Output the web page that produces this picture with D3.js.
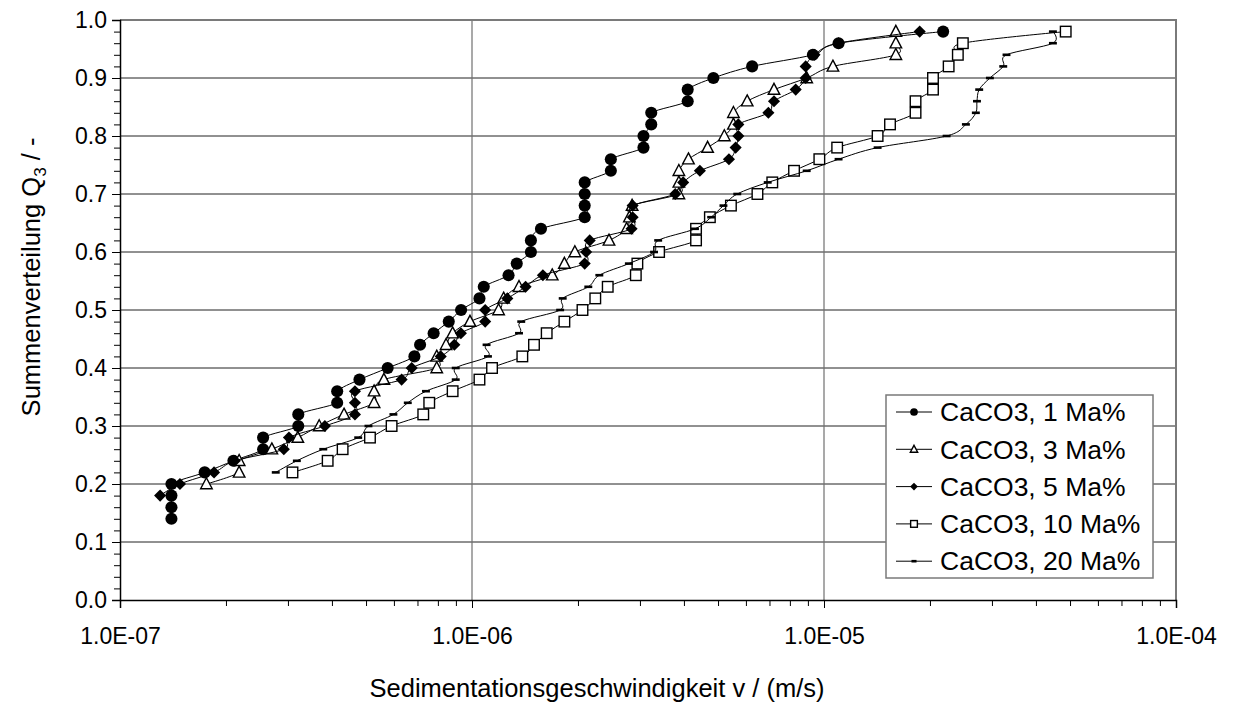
<!DOCTYPE html>
<html>
<head>
<meta charset="utf-8">
<script src="https://cdnjs.cloudflare.com/ajax/libs/d3/7.8.5/d3.min.js"></script>
<style>
  html, body { margin: 0; padding: 0; background: #fff; }
  svg { display: block; font-family: "Liberation Sans", Arial, sans-serif; }
</style>
</head>
<body>
<svg id="chart" width="1237" height="704"></svg>
<script>
// Cumulative distribution Q3 vs. settling velocity for CaCO3 suspensions
const seriesNames = ["CaCO3, 1 Ma%", "CaCO3, 3 Ma%", "CaCO3, 5 Ma%", "CaCO3, 10 Ma%", "CaCO3, 20 Ma%"];
const markerTypes = ["circle", "triangle", "diamond", "square", "dash"];

// velocity v (m/s) per series
const v1 = [1.40e-7, 1.40e-7, 1.40e-7, 1.40e-7, 1.74e-7, 2.10e-7, 2.55e-7, 2.55e-7, 3.21e-7, 3.21e-7,
            4.14e-7, 4.14e-7, 4.79e-7, 5.76e-7, 6.86e-7, 7.12e-7, 7.78e-7, 8.59e-7, 9.31e-7, 1.05e-6,
            1.08e-6, 1.27e-6, 1.34e-6, 1.47e-6, 1.47e-6, 1.57e-6, 2.09e-6, 2.09e-6, 2.09e-6, 2.09e-6,
            2.48e-6, 2.48e-6, 3.07e-6, 3.07e-6, 3.23e-6, 3.23e-6, 4.10e-6, 4.10e-6, 4.85e-6, 6.25e-6,
            9.30e-6, 1.10e-5, 2.18e-5];
const q1 = [0.14, 0.16, 0.18, 0.20, 0.22, 0.24, 0.26, 0.28, 0.30, 0.32,
            0.34, 0.36, 0.38, 0.40, 0.42, 0.44, 0.46, 0.48, 0.50, 0.52,
            0.54, 0.56, 0.58, 0.60, 0.62, 0.64, 0.66, 0.68, 0.70, 0.72,
            0.74, 0.76, 0.78, 0.80, 0.82, 0.84, 0.86, 0.88, 0.90, 0.92,
            0.94, 0.96, 0.98];

const v3 = [1.76e-7, 2.18e-7, 2.18e-7, 2.70e-7, 3.20e-7, 3.68e-7, 4.33e-7, 5.27e-7, 5.27e-7, 5.62e-7,
            7.94e-7, 7.94e-7, 8.44e-7, 8.81e-7, 9.87e-7, 1.19e-6, 1.23e-6, 1.36e-6, 1.69e-6, 1.83e-6,
            1.96e-6, 2.45e-6, 2.75e-6, 2.80e-6, 2.85e-6, 3.87e-6, 3.87e-6, 3.87e-6, 4.12e-6, 4.67e-6,
            5.21e-6, 5.53e-6, 5.53e-6, 6.05e-6, 7.21e-6, 8.93e-6, 1.06e-5, 1.60e-5, 1.60e-5, 1.60e-5];
const q3 = [0.20, 0.22, 0.24, 0.26, 0.28, 0.30, 0.32, 0.34, 0.36, 0.38,
            0.40, 0.42, 0.44, 0.46, 0.48, 0.50, 0.52, 0.54, 0.56, 0.58,
            0.60, 0.62, 0.64, 0.66, 0.68, 0.70, 0.72, 0.74, 0.76, 0.78,
            0.80, 0.82, 0.84, 0.86, 0.88, 0.90, 0.92, 0.94, 0.96, 0.98];

const v5 = [1.30e-7, 1.48e-7, 1.85e-7, 2.12e-7, 2.92e-7, 3.02e-7, 3.82e-7, 4.65e-7, 4.65e-7, 4.65e-7,
            6.31e-7, 6.74e-7, 8.15e-7, 8.91e-7, 9.30e-7, 1.09e-6, 1.09e-6, 1.26e-6, 1.42e-6, 1.59e-6,
            2.09e-6, 2.11e-6, 2.16e-6, 2.84e-6, 2.86e-6, 2.86e-6, 3.78e-6, 3.98e-6, 4.44e-6, 5.37e-6,
            5.61e-6, 5.71e-6, 5.71e-6, 6.95e-6, 7.21e-6, 8.31e-6, 8.87e-6, 8.87e-6, 9.40e-6, 1.10e-5,
            1.87e-5];
const q5 = [0.18, 0.20, 0.22, 0.24, 0.26, 0.28, 0.30, 0.32, 0.34, 0.36,
            0.38, 0.40, 0.42, 0.44, 0.46, 0.48, 0.50, 0.52, 0.54, 0.56,
            0.58, 0.60, 0.62, 0.64, 0.66, 0.68, 0.70, 0.72, 0.74, 0.76,
            0.78, 0.80, 0.82, 0.84, 0.86, 0.88, 0.90, 0.92, 0.94, 0.96,
            0.98];

const v10 = [3.09e-7, 3.89e-7, 4.29e-7, 5.13e-7, 5.91e-7, 7.27e-7, 7.56e-7, 8.81e-7, 1.05e-6, 1.14e-6,
             1.39e-6, 1.50e-6, 1.63e-6, 1.83e-6, 2.06e-6, 2.24e-6, 2.43e-6, 2.92e-6, 2.95e-6, 3.40e-6,
             4.33e-6, 4.33e-6, 4.74e-6, 5.44e-6, 6.47e-6, 7.13e-6, 8.22e-6, 9.70e-6, 1.09e-5, 1.42e-5,
             1.54e-5, 1.82e-5, 1.82e-5, 2.04e-5, 2.04e-5, 2.26e-5, 2.40e-5, 2.48e-5, 4.86e-5];
const q10 = [0.22, 0.24, 0.26, 0.28, 0.30, 0.32, 0.34, 0.36, 0.38, 0.40,
             0.42, 0.44, 0.46, 0.48, 0.50, 0.52, 0.54, 0.56, 0.58, 0.60,
             0.62, 0.64, 0.66, 0.68, 0.70, 0.72, 0.74, 0.76, 0.78, 0.80,
             0.82, 0.84, 0.86, 0.88, 0.90, 0.92, 0.94, 0.96, 0.98];

const v20 = [2.77e-7, 3.18e-7, 3.78e-7, 4.75e-7, 5.08e-7, 5.98e-7, 6.57e-7, 7.40e-7, 8.99e-7, 8.99e-7,
             1.11e-6, 1.10e-6, 1.36e-6, 1.38e-6, 1.78e-6, 1.81e-6, 2.14e-6, 2.30e-6, 2.79e-6, 3.29e-6,
             3.38e-6, 4.30e-6, 4.78e-6, 5.18e-6, 5.67e-6, 6.92e-6, 8.93e-6, 1.10e-5, 1.42e-5, 2.23e-5,
             2.53e-5, 2.70e-5, 2.72e-5, 2.76e-5, 2.96e-5, 3.23e-5, 3.30e-5, 4.47e-5, 4.47e-5];
const q20 = [0.22, 0.24, 0.26, 0.28, 0.30, 0.32, 0.34, 0.36, 0.38, 0.40,
             0.42, 0.44, 0.46, 0.48, 0.50, 0.52, 0.54, 0.56, 0.58, 0.60,
             0.62, 0.64, 0.66, 0.68, 0.70, 0.72, 0.74, 0.76, 0.78, 0.80,
             0.82, 0.84, 0.86, 0.88, 0.90, 0.92, 0.94, 0.96, 0.98];

const xTickValues = [1e-7, 1e-6, 1e-5, 1e-4];
const xTickLabels = ["1.0E-07", "1.0E-06", "1.0E-05", "1.0E-04"];
const yTickValues = [0.0, 0.1, 0.2, 0.3, 0.4, 0.5, 0.6, 0.7, 0.8, 0.9, 1.0];
const yTickLabels = ["0.0", "0.1", "0.2", "0.3", "0.4", "0.5", "0.6", "0.7", "0.8", "0.9", "1.0"];

const xTitle = "Sedimentationsgeschwindigkeit v / (m/s)";

const allV = [v1, v3, v5, v10, v20];
const allQ = [q1, q3, q5, q10, q20];
const series = seriesNames.map((name, i) => ({
  name, marker: markerTypes[i],
  points: allV[i].map((v, j) => ({ v, q: allQ[i][j] }))
}));

// ---- layout ----
const svg = d3.select("#chart");
const plotL = 120, plotR = 1176, plotT = 20, plotB = 600;
const tickFont = 23, titleFont = 25.5, legendFont = 26.5;

const x = d3.scaleLog().domain([1e-7, 1e-4]).range([plotL, plotR]);
const y = d3.scaleLinear().domain([0, 1]).range([plotB, plotT]);

// horizontal gridlines
svg.append("g").selectAll("line").data(yTickValues.slice(1)).join("line")
  .attr("x1", plotL).attr("x2", plotR)
  .attr("y1", d => y(d)).attr("y2", d => y(d))
  .attr("stroke", "#222").attr("stroke-width", 1);

// vertical gridlines at decades
svg.append("g").selectAll("line").data(xTickValues.slice(1, -1)).join("line")
  .attr("x1", d => x(d)).attr("x2", d => x(d))
  .attr("y1", plotT).attr("y2", plotB)
  .attr("stroke", "#707070").attr("stroke-width", 1.2);

// plot frame (top and right)
svg.append("path")
  .attr("d", `M${plotL},${plotT}H${plotR}V${plotB}`)
  .attr("fill", "none").attr("stroke", "#7a7a7a").attr("stroke-width", 2);

// y axis: minor ticks every 0.02, labelled major ticks every 0.1
const yMinor = d3.range(0, 1.0001, 0.02);
svg.append("g").attr("transform", `translate(${plotL},0)`)
  .call(d3.axisLeft(y).tickValues(yMinor).tickSize(6).tickFormat(""))
  .call(g => g.select(".domain").remove());
const yMajor = svg.append("g").attr("transform", `translate(${plotL},0)`)
  .call(d3.axisLeft(y).tickValues(yTickValues).tickSize(8).tickPadding(5)
    .tickFormat((d, i) => yTickLabels[i]));
yMajor.select(".domain").attr("stroke", "#000").attr("stroke-width", 1.5);
yMajor.selectAll("text").attr("font-size", tickFont).attr("fill", "#000")
  .attr("font-family", "Liberation Sans, Arial, sans-serif");

// x axis: minor ticks 2..9 per decade
const xMinor = [];
for (let e = -7; e < -4; e++) for (let k = 2; k <= 9; k++) xMinor.push(k * Math.pow(10, e));
svg.append("g").attr("transform", `translate(0,${plotB})`)
  .call(d3.axisBottom(x).tickValues(xMinor).tickSize(6).tickFormat(""))
  .call(g => g.select(".domain").remove());
const xMajor = svg.append("g").attr("transform", `translate(0,${plotB})`)
  .call(d3.axisBottom(x).tickValues(xTickValues).tickSize(8).tickPadding(20)
    .tickFormat((d, i) => xTickLabels[i]));
xMajor.select(".domain").attr("stroke", "#000").attr("stroke-width", 1.5);
xMajor.selectAll("text").attr("font-size", tickFont).attr("fill", "#000")
  .attr("font-family", "Liberation Sans, Arial, sans-serif");
svg.selectAll(".tick line").attr("stroke", "#000");

// axis titles
svg.append("text")
  .attr("x", 597).attr("y", 697)
  .attr("text-anchor", "middle").attr("font-size", titleFont)
  .text(xTitle);

const yTitle = svg.append("text")
  .attr("transform", `translate(40,277) rotate(-90)`)
  .attr("text-anchor", "middle").attr("font-size", titleFont);
yTitle.append("tspan").text("Summenverteilung Q");
yTitle.append("tspan").attr("font-size", 17).attr("dy", 6).text("3");
yTitle.append("tspan").attr("dy", -6).text(" / -");

// ---- series ----
const line = d3.line()
  .x(d => x(d.v)).y(d => y(d.q))
  .curve(d3.curveCardinal.tension(0));

function drawMarker(sel, type, size) {
  const s = size;
  if (type === "circle") {
    sel.append("circle").attr("r", s * 0.55).attr("fill", "#000");
  } else if (type === "triangle") {
    const h = s * 0.95, w = s * 1.05;
    sel.append("path")
      .attr("d", `M0,${-h * 0.6}L${w / 2},${h * 0.45}L${-w / 2},${h * 0.45}Z`)
      .attr("fill", "#fff").attr("stroke", "#000").attr("stroke-width", 1.4);
  } else if (type === "diamond") {
    const r = s * 0.55;
    sel.append("path").attr("d", `M0,${-r}L${r},0L0,${r}L${-r},0Z`).attr("fill", "#000");
  } else if (type === "square") {
    const h = s * 0.48;
    sel.append("rect").attr("x", -h).attr("y", -h).attr("width", 2 * h).attr("height", 2 * h)
      .attr("fill", "#fff").attr("stroke", "#000").attr("stroke-width", 1.4);
  } else if (type === "dash") {
    sel.append("rect").attr("x", -s * 0.36).attr("y", -1.3).attr("width", s * 0.72).attr("height", 2.6)
      .attr("fill", "#000");
  }
}

series.forEach(s => {
  const g = svg.append("g");
  g.append("path").datum(s.points)
    .attr("d", line).attr("fill", "none").attr("stroke", "#000").attr("stroke-width", 1);
  g.selectAll("g.m").data(s.points).join("g").attr("class", "m")
    .attr("transform", d => `translate(${x(d.v)},${y(d.q)})`)
    .each(function () { drawMarker(d3.select(this), s.marker, 11); });
});

// ---- legend ----
const lg = svg.append("g");
lg.append("rect").attr("x", 886).attr("y", 395).attr("width", 267).attr("height", 183)
  .attr("fill", "#fff").attr("stroke", "#7a7a7a").attr("stroke-width", 1.5);
series.forEach((s, i) => {
  const cy = 412 + i * 37.3;
  lg.append("line").attr("x1", 896).attr("x2", 932).attr("y1", cy).attr("y2", cy)
    .attr("stroke", "#000").attr("stroke-width", 1);
  const m = lg.append("g").attr("transform", `translate(914,${cy})`);
  drawMarker(m, s.marker, 7);
  lg.append("text").attr("x", 940).attr("y", cy).attr("dy", "0.35em")
    .attr("font-size", legendFont).text(s.name);
});
</script>
</body>
</html>
